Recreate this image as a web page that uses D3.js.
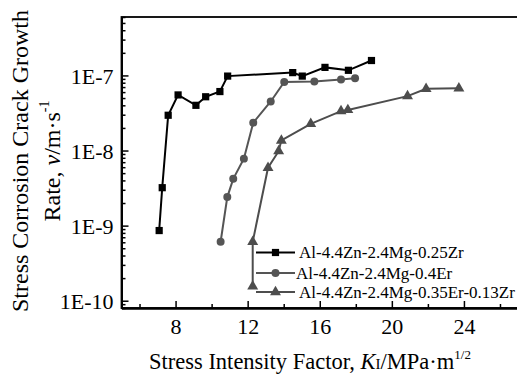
<!DOCTYPE html>
<html>
<head>
<meta charset="utf-8">
<script src="https://cdn.jsdelivr.net/npm/d3@7/dist/d3.min.js"></script>
<style>
  body { margin: 0; background: #fff; }
  text { font-family: "Liberation Serif", "Times New Roman", serif; fill: #000; }
</style>
</head>
<body>
<div id="chart_div"></div>
<script>
// ---- data ----
const seriesNames = ["Al-4.4Zn-2.4Mg-0.25Zr", "Al-4.4Zn-2.4Mg-0.4Er", "Al-4.4Zn-2.4Mg-0.35Er-0.13Zr"]

const zrK = [7.09, 7.26, 7.59, 8.14, 9.13, 9.67, 10.46, 10.89, 14.5, 15.03, 16.29, 17.59, 18.87]
const zrV = [8.6e-10, 3.2e-9, 2.95e-8, 5.5e-8, 4.0e-8, 5.2e-8, 6.1e-8, 9.8e-8, 1.09e-7, 9.8e-8, 1.28e-7, 1.17e-7, 1.58e-7]

const erK = [10.5, 10.87, 11.2, 11.79, 12.31, 13.28, 14.03, 15.7, 17.18, 17.96]
const erV = [6.1e-10, 2.4e-9, 4.2e-9, 7.8e-9, 2.35e-8, 4.5e-8, 8.2e-8, 8.3e-8, 8.8e-8, 9.2e-8]

const erZrK = [12.28, 12.28, 13.13, 13.72, 13.87, 15.5, 17.18, 17.56, 20.87, 21.9, 23.72]
const erZrV = [1.55e-10, 6.1e-10, 5.9e-9, 9.8e-9, 1.36e-8, 2.27e-8, 3.34e-8, 3.47e-8, 5.3e-8, 6.65e-8, 6.75e-8]

const xMajor = [8, 12, 16, 20, 24]
const xMinor = [6, 10, 14, 18, 22, 26]
const yMajor = [1e-10, 1e-9, 1e-8, 1e-7]
const yLabels = ["1E-10", "1E-9", "1E-8", "1E-7"]

const width = 517
const height = 374
const margin = { top: 17, right: -1, bottom: 66, left: 121.5 }

const svg = d3.select('#chart_div').append('svg')
    .attr('width', width)
    .attr('height', height)

const x = d3.scaleLinear().domain([5, 27]).range([margin.left, width - margin.right])
const y = d3.scaleLog().domain([8e-11, 6e-7]).range([height - margin.bottom, margin.top])

// 对数次刻度 2..9
const yMinor = []
for (let e = -11; e <= -7; e++) {
    for (let m = 2; m <= 9; m++) {
        const v = m * Math.pow(10, e)
        if (v >= 8e-11 && v <= 6e-7) yMinor.push(v)
    }
}

const plotBottom = height - margin.bottom

// frame (right side falls outside the picture)
svg.append('rect')
    .attr('x', margin.left)
    .attr('y', margin.top)
    .attr('width', width + 10 - margin.left)
    .attr('height', plotBottom - margin.top)
    .attr('fill', 'none')
    .attr('stroke', '#000')
    .attr('stroke-width', 1.8)

// x axis, ticks pointing inward
const xAxis = svg.append('g').attr('transform', `translate(0,${plotBottom})`)
    .call(d3.axisBottom(x).tickValues(xMajor).tickSize(-7).tickPadding(0).tickSizeOuter(0))
xAxis.append('g')
    .call(d3.axisBottom(x).tickValues(xMinor).tickSize(-4).tickFormat('').tickSizeOuter(0))
xAxis.selectAll('.domain').attr('stroke-width', 1.8)
xAxis.selectAll('.tick line').attr('stroke-width', 1.5)
xAxis.selectAll('.tick text')
    .attr('y', 26)
    .attr('dy', null)
    .attr('font-size', 22)
    .style('font-family', '"Liberation Serif", serif')

// y axis
const yAxis = svg.append('g').attr('transform', `translate(${margin.left},0)`)
    .call(d3.axisLeft(y).tickValues(yMajor).tickSize(-7).tickPadding(8).tickSizeOuter(0)
        .tickFormat((d, i) => yLabels[i]))
yAxis.append('g')
    .call(d3.axisLeft(y).tickValues(yMinor).tickSize(-4).tickFormat('').tickSizeOuter(0))
yAxis.selectAll('.domain').attr('stroke-width', 1.8)
yAxis.selectAll('.tick line').attr('stroke-width', 1.5)
yAxis.selectAll('.tick text')
    .attr('dy', '0.36em')
    .attr('font-size', 22)
    .style('font-family', '"Liberation Serif", serif')

// axis titles
const xTitle = svg.append('text')
    .attr('x', 149)
    .attr('y', 369)
    .attr('font-size', 22.5)
xTitle.append('tspan').text('Stress Intensity Factor, ')
xTitle.append('tspan').attr('font-style', 'italic').text('K')
xTitle.append('tspan').attr('font-size', 15).text('I')
xTitle.append('tspan').text('/MPa·m')
xTitle.append('tspan').attr('font-size', 13).attr('dy', -10).text('1/2')

const yTitle = svg.append('g').attr('transform', 'translate(28,161) rotate(-90)')
yTitle.append('text')
    .attr('text-anchor', 'middle')
    .attr('font-size', 24)
    .text('Stress Corrosion Crack Growth')
const yTitle2 = yTitle.append('text')
    .attr('text-anchor', 'middle')
    .attr('y', 32)
    .attr('font-size', 24)
yTitle2.append('tspan').text('Rate, ')
yTitle2.append('tspan').attr('font-style', 'italic').text('v')
yTitle2.append('tspan').text('/m·s')
yTitle2.append('tspan').attr('font-size', 14).attr('dy', -11).text('-1')

// ---- series ----
const series = [
    { name: seriesNames[0], k: zrK, v: zrV, color: '#000000', shape: d3.symbolSquare, size: 52 },
    { name: seriesNames[1], k: erK, v: erV, color: '#555555', shape: d3.symbolCircle, size: 50 },
    { name: seriesNames[2], k: erZrK, v: erZrV, color: '#4d4d4d', shape: d3.symbolTriangle, size: 52 }
]

const line = d3.line().x(d => x(d[0])).y(d => y(d[1]))

series.forEach(s => {
    const pts = s.k.map((k, i) => [k, s.v[i]])
    svg.append('path')
        .datum(pts)
        .attr('d', line)
        .attr('fill', 'none')
        .attr('stroke', s.color)
        .attr('stroke-width', 2)
    svg.append('g').selectAll('path')
        .data(pts)
        .enter()
        .append('path')
        .attr('transform', d => `translate(${x(d[0])},${y(d[1])})`)
        .attr('d', d3.symbol().type(s.shape).size(s.size))
        .attr('fill', s.color)
})

// legend
const legend = svg.append('g').attr('transform', 'translate(256,0)')
const legendY = [252.5, 273, 292]
const legendTextX = [43, 40, 43]
series.forEach((s, i) => {
    const row = legend.append('g').attr('transform', `translate(0,${legendY[i]})`)
    row.append('line')
        .attr('x1', 0).attr('x2', 39)
        .attr('stroke', s.color)
        .attr('stroke-width', 2)
    row.append('path')
        .attr('transform', 'translate(19.5,0)')
        .attr('d', d3.symbol().type(s.shape).size(s.size))
        .attr('fill', s.color)
    row.append('text')
        .attr('x', legendTextX[i])
        .attr('dy', '0.35em')
        .attr('font-size', 17)
        .text(s.name)
})
</script>
</body>
</html>
